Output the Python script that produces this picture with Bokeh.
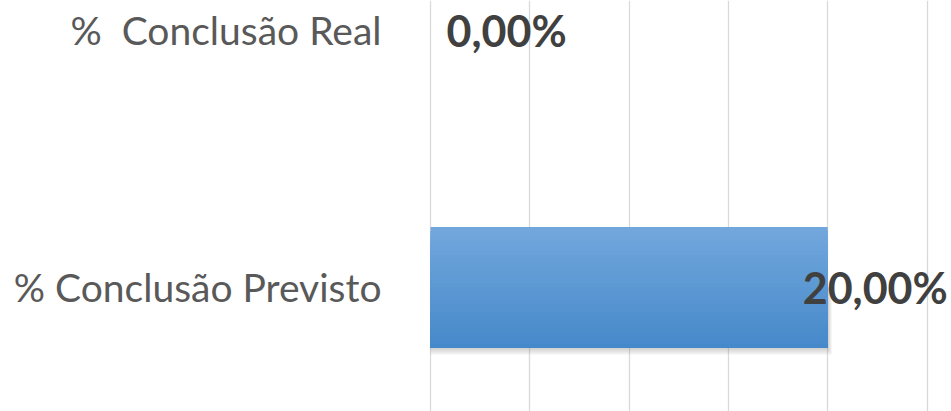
from bokeh.plotting import figure
from bokeh.models import Range1d, FixedTicker, ColumnDataSource
from bokeh.transform import dodge
from bokeh.embed import file_html
from bokeh.resources import INLINE
from bokeh.core.properties import value

# ---- data ----
categories = ["% Conclusão Previsto", "%\u00a0 Conclusão Real"]
percent_values = [20.0, 0.0]
value_labels = ["20,00%", "0,00%"]
grid_ticks = [0, 5, 10, 15, 20, 25]

ypos = list(range(len(categories)))
src = ColumnDataSource(dict(y=ypos, v=percent_values, lab=value_labels))
# bars that actually have a length (used for the shadow)
nz = [i for i, v in enumerate(percent_values) if v > 0]
src_nz = ColumnDataSource(dict(y=[ypos[i] for i in nz], v=[percent_values[i] for i in nz]))

Y0, Y1 = -0.4825, 1.1167
X0, X1 = -0.05, 26.23
W, H = 951, 411
px_y = (Y1 - Y0) / H          # data units per pixel (y)
px_x = (X1 - X0) / (W - 429)  # data units per pixel (x)

p = figure(width=W, height=H, output_backend="svg", toolbar_location=None,
           x_range=Range1d(X0, X1), y_range=Range1d(Y0, Y1),
           x_axis_location=None, min_border_left=429, min_border_right=0,
           min_border_top=0, min_border_bottom=0)
p.outline_line_color = None
p.background_fill_color = "white"
p.border_fill_color = "white"

# grid
p.xgrid.ticker = FixedTicker(ticks=grid_ticks)
p.xgrid.grid_line_color = "#d9d9d9"
p.xgrid.grid_line_width = 1.3
p.ygrid.grid_line_color = None

# y axis with category labels
ax = p.yaxis[0]
ax.ticker = FixedTicker(ticks=ypos)
ax.major_label_overrides = {i: c for i, c in enumerate(categories)}
ax.axis_line_color = None
ax.major_tick_line_color = None
ax.minor_tick_line_color = None
ax.major_label_standoff = 42
ax.major_label_text_font = "Lato"
ax.major_label_text_font_size = "39px"
ax.major_label_text_color = "#595959"

BAR_H = 0.471

# soft shadow below the bar (nested translucent rectangles)
for k in range(1, 8):
    bottom = -BAR_H / 2 - k * px_y
    topy = 0.0
    p.hbar(y=dodge("y", (topy + bottom) / 2, range=p.y_range), left=0,
           right=dodge("v", 0.6 * k * px_x, range=p.x_range),
           height=topy - bottom, source=src_nz,
           fill_color="#7f7f7f", fill_alpha=0.055, line_color=None)

# bar with vertical gradient (top light -> bottom dark), nested strips
top = (0x72, 0xa7, 0xdc)
bot = (0x46, 0x89, 0xca)
N = 30
for k in range(N):
    t = k / (N - 1)
    col = "#%02x%02x%02x" % tuple(round(a + (b - a) * t) for a, b in zip(top, bot))
    t_edge = BAR_H / 2 - k * BAR_H / N
    b_edge = -BAR_H / 2
    p.hbar(y=dodge("y", (t_edge + b_edge) / 2, range=p.y_range), left=0, right="v",
           height=t_edge - b_edge, source=src, fill_color=col, line_color=None)

# data labels
for i in range(len(categories)):
    s = ColumnDataSource(dict(y=[ypos[i]], v=[percent_values[i]], lab=[value_labels[i]]))
    if percent_values[i] > 0:
        p.text(x="v", y="y", text="lab", source=s, text_align="right",
               text_baseline="middle", x_offset=120,
               text_font=value("Lato"), text_font_size="43px",
               text_font_style="bold", text_color="#404040")
    else:
        p.text(x="v", y="y", text="lab", source=s, text_align="left",
               text_baseline="middle", x_offset=16,
               text_font=value("Lato"), text_font_size="43px",
               text_font_style="bold", text_color="#404040")

open("out.html", "w").write(file_html(p, INLINE))
